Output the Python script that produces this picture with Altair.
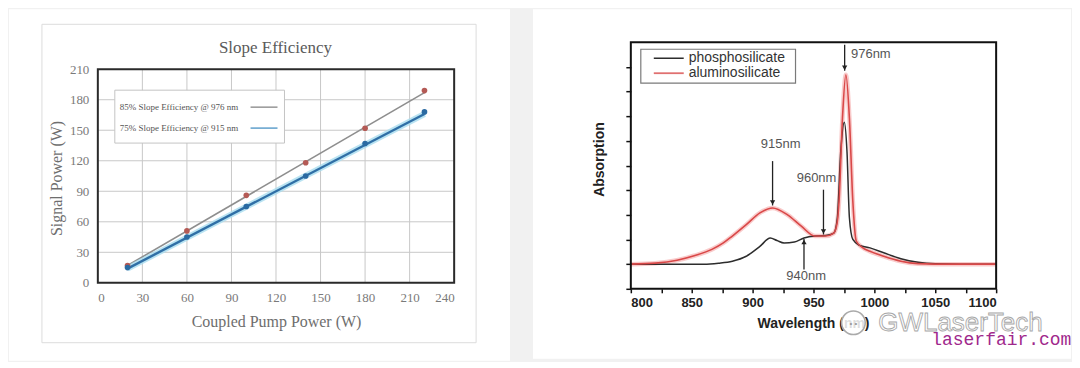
import altair as alt
import pandas as pd

# ---------------- Left panel data (Slope Efficiency) ----------------
pump_power = [20, 60, 100, 140, 180, 220]
signal_976 = [17, 51, 86, 118, 152, 189]
signal_915 = [15, 45, 75, 105, 137, 168]
fit_pump = [20, 220]
fit_976 = [17, 187]
fit_915 = [14, 166]
left_x_ticks = [0, 30, 60, 90, 120, 150, 180, 210, 240]
left_y_ticks = [0, 30, 60, 90, 120, 150, 180, 210]
left_grid_x = [30, 60, 90, 120, 150, 180, 210]
left_grid_y = [30, 60, 90, 120, 150, 180]
left_legend = ["85%  Slope Efficiency @ 976 nm", "75%  Slope Efficiency @ 915 nm"]
left_title = "Slope Efficiency"

# ---------------- Right panel data (Absorption) ----------------
wl_alumino = [800, 820, 838, 852, 866.6, 876, 883.4, 894.8, 906, 916.4, 928.7, 940,
              951.2, 959.7, 966.7, 969.5, 971, 973.8, 976.6, 979.5, 982.3, 985.1,
              990, 996.4, 1007.7, 1021.8, 1035.9, 1050, 1100]
abs_alumino = [0.0, 0.02, 0.08, 0.17, 0.30, 0.43, 0.57, 0.80, 1.04, 1.14, 1.00, 0.77,
               0.57, 0.57, 0.63, 0.85, 1.28, 2.96, 3.84, 2.96, 1.28, 0.47,
               0.34, 0.26, 0.16, 0.06, 0.01, 0.0, 0.0]
wl_phospho = [800, 860, 872, 883.4, 894.8, 906, 914.5, 920, 925.8, 934.3, 942.2, 951.2,
              960, 966.7, 969.6, 972.4, 975.3, 977.5, 979.5, 982.3, 987.9, 996.4,
              1007.7, 1021.8, 1035.9, 1050, 1070, 1100]
abs_phospho = [0.0, 0.0, 0.02, 0.06, 0.16, 0.36, 0.53, 0.48, 0.43, 0.45, 0.53, 0.57,
               0.58, 0.63, 0.94, 2.29, 2.88, 2.29, 0.94, 0.50, 0.38, 0.33,
               0.23, 0.11, 0.04, 0.01, 0.0, 0.0]
series_names = ["phosphosilicate", "aluminosilicate"]
right_x_ticks = [800, 825, 850, 875, 900, 925, 950, 975, 1000, 1025, 1050, 1075, 1100]
right_y_ticks = [-0.5, 0, 0.5, 1, 1.5, 2, 2.5, 3, 3.5, 4]
right_x_title = "Wavelength (nm)"

ann_labels = ["976nm", "915nm", "960nm", "940nm"]
ann_text_x = [980.8, 923, 952.5, 944]
ann_text_y = [4.27, 2.44, 1.75, -0.24]
ann_text_align = ["left", "center", "center", "center"]
arrow_x = [975.6, 916.4, 958.2, 942.2]
arrow_from = [4.45, 2.09, 1.51, -0.11]
arrow_to = [3.92, 1.19, 0.60, 0.51]
arrow_dir = ["down", "down", "down", "up"]

dummy = pd.DataFrame({"d": [0]})

SERIF = "Liberation Serif"
SANS = "Liberation Sans"
LGRAY = "#6e6e6e"


def px_rect(x, x2, y, y2, **kw):
    return alt.Chart(dummy).mark_rect(**kw).encode(
        x=alt.value(x), x2=alt.value(x2), y=alt.value(y), y2=alt.value(y2))


def px_text(text, x, y, **kw):
    return alt.Chart(dummy).mark_text(text=text, **kw).encode(
        x=alt.value(x), y=alt.value(y))


def px_hrule(x, x2, y, **kw):
    return alt.Chart(dummy).mark_rule(**kw).encode(
        x=alt.value(x), x2=alt.value(x2), y=alt.value(y))


# ================= LEFT CHART =================
LW, LH = 357, 241
lx = alt.Scale(domain=[0, 240], nice=False, zero=False)
ly = alt.Scale(domain=[0, 210], nice=False, range=[241, 27])
lx_axis = alt.Axis(
    values=left_x_ticks, grid=False, domain=False, ticks=False, zindex=1,
    labelFont=SERIF, labelFontSize=13, labelColor="#7a7a7a", labelPadding=9,
    title="Coupled Pump Power (W)", titleFont=SERIF, titleFontSize=16,
    titleFontWeight="normal", titleColor=LGRAY, titlePadding=9)
ly_axis = alt.Axis(
    values=left_y_ticks, grid=False, domain=False, ticks=False, zindex=1,
    labelFont=SERIF, labelFontSize=13, labelColor="#7a7a7a", labelPadding=9,
    title="Signal Power (W)", titleFont=SERIF, titleFontSize=16,
    titleFontWeight="normal", titleColor=LGRAY, titleAngle=-90,
    titleX=-41, titleY=136, titleBaseline="middle", titleAlign="center")


def LX(f):
    return alt.X(f, scale=lx, axis=lx_axis)


def LY(f):
    return alt.Y(f, scale=ly, axis=ly_axis)


left_pts = pd.DataFrame({
    "pump": pump_power * 2,
    "sig": signal_976 + signal_915,
    "s": ["976"] * len(pump_power) + ["915"] * len(pump_power),
})
fit_df = pd.DataFrame({
    "pump": fit_pump * 2,
    "sig": fit_976 + fit_915,
    "s": ["976"] * 2 + ["915"] * 2,
})
vgrid_df = pd.DataFrame({"pump": left_grid_x, "sig": [0] * len(left_grid_x),
                         "sig2": [210] * len(left_grid_x)})
hgrid_df = pd.DataFrame({"sig": left_grid_y, "pump": [0] * len(left_grid_y),
                         "pump2": [240] * len(left_grid_y)})
frame_df = pd.DataFrame({"pump": [0], "pump2": [240], "sig": [0], "sig2": [210]})

bg_all = px_rect(-89, 975, -33, 319, fill="#f1f1f1")
card_left = px_rect(-89, 413, -33, 319, fill="#ffffff")
inner_border = px_rect(-56, 379, -18, 301, fill="#ffffff", stroke="#dcdcdc", strokeWidth=1)

vgrid = alt.Chart(vgrid_df).mark_rule(color="#c8c8c8", strokeWidth=1).encode(
    x=LX("pump:Q"), y=LY("sig:Q"), y2="sig2:Q")
hgrid = alt.Chart(hgrid_df).mark_rule(color="#c8c8c8", strokeWidth=1).encode(
    x=LX("pump:Q"), x2="pump2:Q", y=LY("sig:Q"))

frame_left = alt.Chart(frame_df).mark_rect(fillOpacity=0, stroke="#2a2a2a", strokeWidth=2).encode(
    x=LX("pump:Q"), x2="pump2:Q", y=LY("sig:Q"), y2="sig2:Q")

fit_gray = alt.Chart(fit_df[fit_df["s"] == "976"]).mark_line(color="#8e8e8e", strokeWidth=1.6).encode(
    x=LX("pump:Q"), y=LY("sig:Q"))
fit_halo = alt.Chart(fit_df[fit_df["s"] == "915"]).mark_line(color="#a8dcef", strokeWidth=6, opacity=0.8).encode(
    x=LX("pump:Q"), y=LY("sig:Q"))
fit_blue = alt.Chart(fit_df[fit_df["s"] == "915"]).mark_line(color="#2f6fa6", strokeWidth=2.4).encode(
    x=LX("pump:Q"), y=LY("sig:Q"))
pts_red = alt.Chart(left_pts[left_pts["s"] == "976"]).mark_circle(color="#b45a55", size=32, opacity=1).encode(
    x=LX("pump:Q"), y=LY("sig:Q"))
pts_blue = alt.Chart(left_pts[left_pts["s"] == "915"]).mark_circle(color="#2a6aa2", size=32, opacity=1).encode(
    x=LX("pump:Q"), y=LY("sig:Q"))

leg_box = px_rect(17, 187, 48, 101, fill="#ffffff", stroke="#c4c4c4", strokeWidth=1)
leg_t1 = px_text(left_legend[0], 22, 65, font=SERIF, fontSize=9, color="#555555", align="left", baseline="middle")
leg_t2 = px_text(left_legend[1], 22, 86, font=SERIF, fontSize=9, color="#555555", align="left", baseline="middle")
leg_l1 = px_hrule(153, 180, 65, color="#8e8e8e", strokeWidth=1.4)
leg_l2 = px_hrule(153, 180, 86, color="#6aa6cf", strokeWidth=1.6)
title_left = px_text(left_title, 178, 6, font=SERIF, fontSize=17, color="#5a5a5a", align="center", baseline="middle")

left = alt.layer(
    bg_all, card_left, inner_border, vgrid, hgrid, frame_left,
    fit_gray, fit_halo, fit_blue, pts_red, pts_blue,
    leg_box, leg_t1, leg_t2, leg_l1, leg_l2, title_left,
).properties(width=LW, height=LH)

# ================= RIGHT CHART =================
RW, RH = 366, 247
rx = alt.Scale(domain=[800, 1100], nice=False, zero=False)
ry = alt.Scale(domain=[-0.5, 4.5], nice=False, zero=False)
rx_axis = alt.Axis(
    values=right_x_ticks, format="d",
    labelExpr="datum.value % 50 == 0 ? datum.label : ''",
    grid=False, domain=False, ticks=True, tickSize=4, tickWidth=1.5, tickColor="#111111",
    zindex=1,
    labelFont=SANS, labelFontSize=13, labelFontWeight="bold", labelColor="#222222",
    labelPadding=4, labelOverlap=False, title="")
ry_axis = alt.Axis(
    values=right_y_ticks, labels=False, grid=False, domain=False, ticks=True,
    tickSize=5, tickWidth=1.5, tickColor="#111111", zindex=1,
    title="Absorption", titleFont=SANS, titleFontSize=14, titleFontWeight="bold",
    titleColor="#222222", titleAngle=-90, titleX=-31, titleY=117,
    titleBaseline="middle", titleAlign="center")


def RX(f):
    return alt.X(f, scale=rx, axis=rx_axis)


def RY(f):
    return alt.Y(f, scale=ry, axis=ry_axis)


spec_df = pd.DataFrame({
    "wl": wl_phospho + wl_alumino,
    "a": abs_phospho + abs_alumino,
    "s": [series_names[0]] * len(wl_phospho) + [series_names[1]] * len(wl_alumino),
})
ann_df = pd.DataFrame({"label": ann_labels, "wl": ann_text_x, "a": ann_text_y,
                       "al": ann_text_align, "awl": arrow_x, "a0": arrow_from,
                       "a1": arrow_to, "dir": arrow_dir})
rframe_df = pd.DataFrame({"wl": [800], "wl2": [1100], "a": [-0.5], "a2": [4.5]})

card_right = px_rect(-98, 441, -33, 317, fill="#ffffff")

red_df = spec_df[spec_df["s"] == series_names[1]]
blk_df = spec_df[spec_df["s"] == series_names[0]]
red_halo = alt.Chart(red_df).mark_line(
    color="#f4a0a0", strokeWidth=4.5, opacity=0.55, interpolate="monotone").encode(x=RX("wl:Q"), y=RY("a:Q"))
black_line = alt.Chart(blk_df).mark_line(
    color="#2d2d2d", strokeWidth=1.5, interpolate="monotone").encode(x=RX("wl:Q"), y=RY("a:Q"))
red_line = alt.Chart(red_df).mark_line(
    color="#d94848", strokeWidth=1.6, interpolate="monotone").encode(x=RX("wl:Q"), y=RY("a:Q"))

frame_right = alt.Chart(rframe_df).mark_rect(fillOpacity=0, stroke="#111111", strokeWidth=2).encode(
    x=RX("wl:Q"), x2="wl2:Q", y=RY("a:Q"), y2="a2:Q")

arrow_shaft = alt.Chart(ann_df).mark_rule(color="#222222", strokeWidth=1.3).encode(
    x=RX("awl:Q"), y=RY("a0:Q"), y2="a1:Q")
head_down = alt.Chart(ann_df[ann_df["dir"] == "down"]).mark_point(
    shape="triangle-down", filled=True, size=28, color="#222222", opacity=1, yOffset=-3).encode(
    x=RX("awl:Q"), y=RY("a1:Q"))
head_up = alt.Chart(ann_df[ann_df["dir"] == "up"]).mark_point(
    shape="triangle-up", filled=True, size=28, color="#222222", opacity=1, yOffset=3).encode(
    x=RX("awl:Q"), y=RY("a1:Q"))
ann_left = alt.Chart(ann_df[ann_df["al"] == "left"]).mark_text(
    font=SANS, fontSize=13, color="#555555", align="left", baseline="middle").encode(
    x=RX("wl:Q"), y=RY("a:Q"), text="label:N")
ann_center = alt.Chart(ann_df[ann_df["al"] == "center"]).mark_text(
    font=SANS, fontSize=13, color="#555555", align="center", baseline="middle").encode(
    x=RX("wl:Q"), y=RY("a:Q"), text="label:N")

rleg_box = px_rect(10, 165, 7, 41, fill="#ffffff", stroke="#7a7a7a", strokeWidth=1.2)
rleg_l1 = px_hrule(23, 53, 16, color="#2d2d2d", strokeWidth=1.5)
rleg_l2 = px_hrule(23, 53, 31, color="#e07070", strokeWidth=1.8)
rleg_t1 = px_text(series_names[0], 58, 16, font=SANS, fontSize=14, color="#333333", align="left", baseline="middle")
rleg_t2 = px_text(series_names[1], 58, 31, font=SANS, fontSize=14, color="#333333", align="left", baseline="middle")

x_title_right = px_text(right_x_title, 183, 282, font=SANS, fontSize=14, fontWeight="bold",
                        color="#222222", align="center", baseline="middle")

wm_icon = alt.Chart(dummy).mark_point(shape="circle", size=560, filled=False, stroke="#aaaaaa",
                                      strokeWidth=1.6, fill="#ffffff", fillOpacity=0.85).encode(
    x=alt.value(223), y=alt.value(281))
wm_dots = px_text("• •", 223, 282, font=SANS, fontSize=8, color="#999999", align="center",
                  baseline="middle")
wm_text = px_text("GWLaserTech", 248, 281, font=SANS, fontSize=26, fill="#ffffff", fillOpacity=0.4,
                  stroke="#a8a8a8", strokeWidth=0.9, align="left", baseline="middle")
wm_site = px_text("laserfair.com", 301, 298, font="Liberation Mono", fontSize=18, color="#a0288c",
                  align="left", baseline="middle")

right = alt.layer(
    card_right, red_halo, black_line, red_line, frame_right,
    arrow_shaft, head_down, head_up, ann_left, ann_center,
    rleg_box, rleg_l1, rleg_l2, rleg_t1, rleg_t2,
    x_title_right, wm_icon, wm_dots, wm_text, wm_site,
).properties(width=RW, height=RH)

chart = alt.hconcat(left, right, spacing=177, bounds="flush").properties(
    padding=0, background="#f1f1f1"
).configure_view(stroke="transparent")

chart.save("out.html", embed_options={"renderer": "svg", "actions": False})
